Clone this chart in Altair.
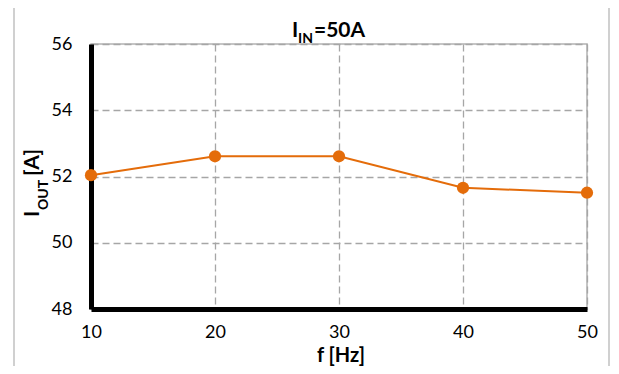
import altair as alt
import pandas as pd

freq = [10, 20, 30, 40, 50]
i_out = [52.04, 52.61, 52.61, 51.66, 51.51]
x_ticks = [10, 20, 30, 40, 50]
y_ticks = [48, 50, 52, 54, 56]

df = pd.DataFrame({"f": freq, "iout": i_out})

W, H = 496, 265
ORANGE = "#E46C0A"
FONT = "Lato"

x_enc = alt.X("f:Q", scale=alt.Scale(domain=[10, 50], nice=False),
              axis=alt.Axis(values=x_ticks, title=None, labelPadding=14, labelFlush=False))
y_enc = alt.Y("iout:Q", scale=alt.Scale(domain=[48, 56], nice=False, zero=False),
              axis=alt.Axis(values=y_ticks, title=None, labelPadding=19, labelFlush=False))

line = alt.Chart(df).mark_line(color=ORANGE, strokeWidth=2).encode(x=x_enc, y=y_enc)
pts = alt.Chart(df).mark_circle(color=ORANGE, size=150, opacity=1).encode(x="f:Q", y="iout:Q")

def txt(s, x, y, size, angle=0, align="left", weight="bold"):
    return alt.Chart(pd.DataFrame({"t": [s]})).mark_text(
        font=FONT, fontSize=size, fontWeight=weight, align=align,
        baseline="alphabetic", angle=angle, color="black"
    ).encode(text="t:N", x=alt.value(x), y=alt.value(y))

# chart title I_IN=50A
t1 = txt("I", 201, -7, 21)
t2 = txt("IN", 207, -1, 14)
t3 = txt("=50A", 223, -7, 21)
# x title
xt = txt("f [Hz]", 250, 318, 20, align="center")
# y title rotated
y1 = txt("I", -52, 173, 21, angle=270)
y2 = txt("OUT", -43, 166, 14, angle=270)
y3 = txt("[A]", -52, 132, 21, angle=270)

# outer frame (left, top, right)
frame_l = alt.Chart(pd.DataFrame({"a": [0]})).mark_rule(color="#c0c0c0", strokeWidth=1.5).encode(
    x=alt.value(-77), y=alt.value(-37), y2=alt.value(330))
frame_t = alt.Chart(pd.DataFrame({"a": [0]})).mark_rule(color="#c0c0c0", strokeWidth=1.5).encode(
    x=alt.value(-77), x2=alt.value(518), y=alt.value(-37))
frame_r = alt.Chart(pd.DataFrame({"a": [0]})).mark_rule(color="#c0c0c0", strokeWidth=1.5).encode(
    x=alt.value(518), y=alt.value(-37), y2=alt.value(330))

chart = alt.layer(line, pts, t1, t2, t3, xt, y1, y2, y3, frame_l, frame_t, frame_r).properties(
    width=W, height=H,
    autosize=alt.AutoSizeParams(type="none"),
    padding={"left": 83, "top": 36, "right": 24, "bottom": 57},
).configure_view(
    stroke="#b3b3b3", strokeWidth=1.5
).configure_axis(
    grid=True, gridColor="#a6a6a6", gridDash=[7, 4], gridWidth=1.3,
    domainColor="black", domainWidth=5, ticks=False, tickSize=0,
    labelFont=FONT, labelFontSize=18, labelColor="black",
)

chart.save("out.html", embed_options={"renderer": "svg", "actions": False})
